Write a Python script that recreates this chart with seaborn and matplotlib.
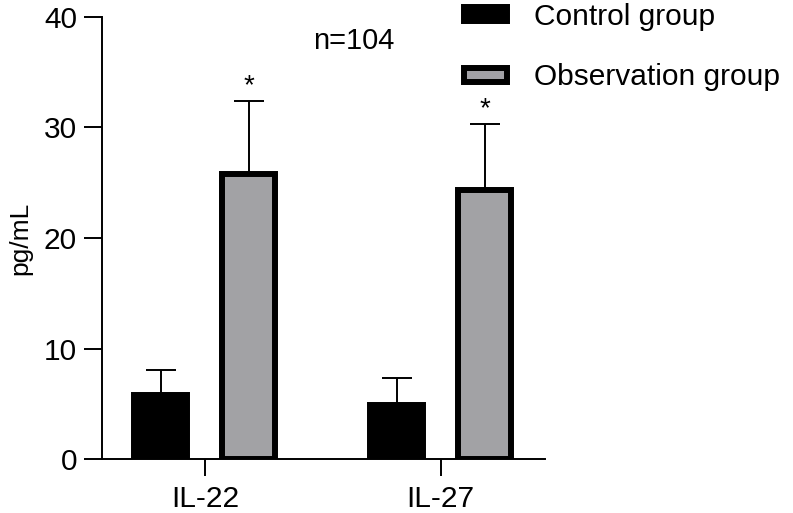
import pandas as pd
import matplotlib.pyplot as plt
import seaborn as sns
from matplotlib.patches import Patch

# Values (mean and upper SD)
cytokines = ['IL-22', 'IL-27']
groups = ['Control group', 'Observation group']
control_mean = [5.8, 4.9]
control_sd = [2.3, 2.4]
observation_mean = [25.8, 24.3]
observation_sd = [6.6, 6.0]

df = pd.DataFrame({
    'cytokine': cytokines * 2,
    'group': [groups[0]] * 2 + [groups[1]] * 2,
    'value': control_mean + observation_mean,
    'sd': control_sd + observation_sd,
})

sns.set_style('ticks')
plt.rcParams['font.family'] = ['Liberation Sans', 'DejaVu Sans']
plt.rcParams.update({'text.color': 'black', 'axes.labelcolor': 'black',
                     'xtick.color': 'black', 'ytick.color': 'black',
                     'axes.edgecolor': 'black'})

colors = {'Control group': 'black', 'Observation group': '#a2a1a6'}

fig, ax = plt.subplots(figsize=(7.93, 5.13), dpi=100)
fig.subplots_adjust(left=0.1286, right=0.687, bottom=0.105, top=0.967)

sns.barplot(data=df, x='cytokine', y='value', hue='group', hue_order=groups,
            palette=colors, width=0.746, gap=0.4, edgecolor='black',
            linewidth=4.3, errorbar=None, legend=False, ax=ax, zorder=3)

# Upper error bars and significance stars
for container, grp in zip(ax.containers, groups):
    sub = df[df['group'] == grp]
    for bar, sd in zip(container, sub['sd']):
        xc = bar.get_x() + bar.get_width() / 2
        h = bar.get_height()
        ax.errorbar(xc, h, yerr=[[0], [sd]], color='black', elinewidth=1.4,
                    capsize=10.5, capthick=1.4, zorder=2)
        if grp == 'Observation group':
            ax.text(xc, h + sd + 0.7, '*', ha='center', va='baseline',
                    fontsize=20, color='black')

ax.text(0.63, 37.8, 'n=104', ha='center', va='center', fontsize=21)

ax.set_ylim(0, 40)
ax.set_xlim(-0.436, 1.441)
ax.set_yticks([0, 10, 20, 30, 40])
ax.set_xlabel('')
ax.set_ylabel('pg/mL', fontsize=19)
ax.yaxis.set_label_coords(-0.158, 0.5)

sns.despine(ax=ax)
for s in ['left', 'bottom']:
    ax.spines[s].set_linewidth(1.4)
ax.tick_params(axis='y', length=13, width=1.4, labelsize=21.5, pad=5)
ax.tick_params(axis='x', length=12.5, width=1.4, labelsize=21.5, pad=6)

handles = [Patch(facecolor=colors[g], edgecolor='black', linewidth=4.3) for g in groups]
fig.legend(handles, groups, loc='upper left', bbox_to_anchor=(0.585, 0.995),
           frameon=False, fontsize=21.5, borderpad=0, borderaxespad=0,
           handlelength=1.45, handleheight=0.35, handletextpad=0.9,
           labelspacing=1.1)

fig.savefig('out.png', dpi=100)
